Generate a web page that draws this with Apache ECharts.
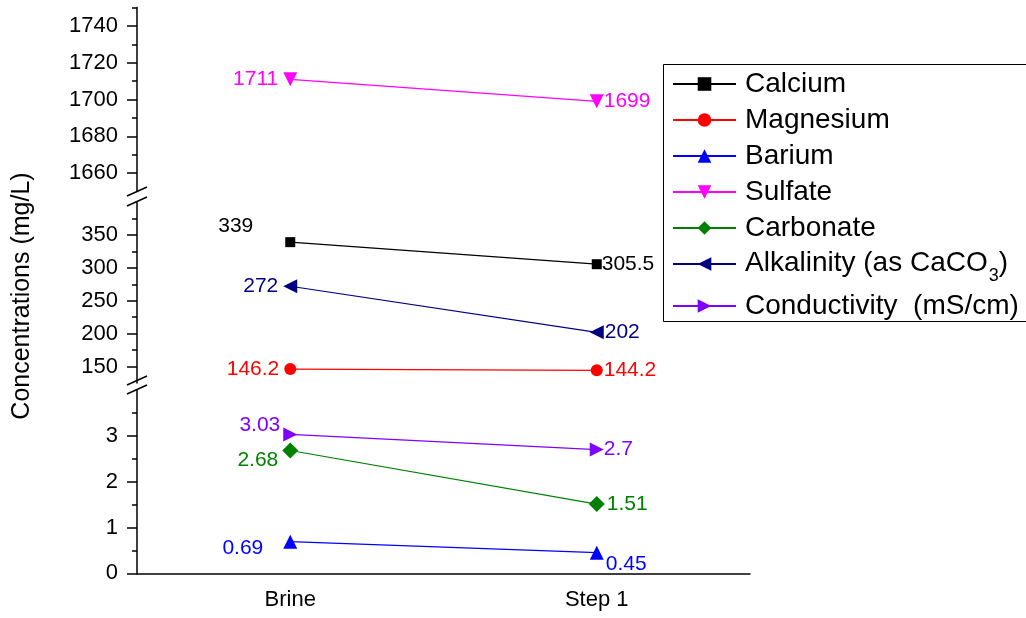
<!DOCTYPE html>
<html><head><meta charset="utf-8">
<script src="https://cdn.jsdelivr.net/npm/echarts@6/dist/echarts.min.js"></script>
<style>html,body{margin:0;padding:0;background:#fff}#c{width:1026px;height:618px}</style>
</head><body><div id="c"></div>
<script>
const categories = ['Brine', 'Step 1'];
const seriesNames = ['Calcium', 'Magnesium', 'Barium', 'Sulfate', 'Carbonate', 'Alkalinity (as CaCO3)', 'Conductivity  (mS/cm)'];
const calcium = [339, 305.5];
const magnesium = [146.2, 144.2];
const barium = [0.69, 0.45];
const sulfate = [1711, 1699];
const carbonate = [2.68, 1.51];
const alkalinity = [272, 202];
const conductivity = [3.03, 2.7];
const topRange = [1650, 1750];
const topTicks = [1660, 1680, 1700, 1720, 1740];
const topMinor = [1670, 1690, 1710, 1730, 1750];
const midRange = [125, 400];
const midTicks = [150, 200, 250, 300, 350];
const midMinor = [175, 225, 275, 325, 375];
const lowRange = [0, 4];
const lowTicks = [0, 1, 2, 3];
const lowMinor = [0.5, 1.5, 2.5, 3.5];
const yTitle = 'Concentrations (mg/L)';

const FONT = '"Liberation Sans", Arial, sans-serif';
const L = 137, R = 1026 - 750;
const grids = [
  { left: L, right: R, top: 7.6, height: 183.8 },
  { left: L, right: R, top: 202, height: 181 },
  { left: L, right: R, top: 390, height: 183.3 }
];
const xAxes = grids.map((g, i) => ({
  type: 'category', gridIndex: i, data: categories, show: i === 2,
  axisLine: { lineStyle: { color: '#000', width: 1.5 } },
  axisTick: { alignWithLabel: true, length: 9, lineStyle: { color: '#000', width: 1.5 } },
  axisLabel: { fontSize: 22, color: '#000', fontFamily: FONT, margin: 16 }
}));
function majorAxis(gi, range, ticks) {
  return {
    type: 'value', gridIndex: gi, position: 'left', min: range[0], max: range[1],
    axisLine: { show: true, lineStyle: { color: '#000', width: 1.5 } },
    axisTick: { show: true, length: 10, customValues: ticks, lineStyle: { color: '#000', width: 1.5 } },
    axisLabel: { customValues: ticks, formatter: v => String(v), fontSize: 22, color: '#000', fontFamily: FONT, margin: 19 },
    splitLine: { show: false }
  };
}
function minorAxis(gi, range, ticks) {
  return {
    type: 'value', gridIndex: gi, position: 'left', offset: 0, min: range[0], max: range[1],
    axisLine: { show: false },
    axisTick: { show: true, length: 5, customValues: ticks, lineStyle: { color: '#000', width: 1.5 } },
    axisLabel: { show: false },
    splitLine: { show: false }
  };
}
const yAxes = [
  majorAxis(0, topRange, topTicks), minorAxis(0, topRange, topMinor),
  majorAxis(1, midRange, midTicks), minorAxis(1, midRange, midMinor),
  majorAxis(2, lowRange, lowTicks), minorAxis(2, lowRange, lowMinor)
];

function mk(name, vals, color, symbol, size, rotate, gi, labels) {
  return {
    name, type: 'line', xAxisIndex: gi, yAxisIndex: gi * 2,
    symbol, symbolSize: size, symbolRotate: rotate,
    itemStyle: { color }, lineStyle: { color, width: 1.2 },
    label: { show: true, color, fontSize: 21, fontFamily: FONT },
    data: vals.map((v, i) => ({ value: v, label: labels[i] }))
  };
}
const series = [
  mk(seriesNames[0], calcium, '#000000', 'rect', 10, 0, 1,
     [{ position: 'left', distance: 32, offset: [0, -16] }, { position: 'right', distance: 0 }]),
  mk(seriesNames[1], magnesium, '#ff0000', 'circle', 12, 0, 1,
     [{ position: 'left', distance: 5 }, { position: 'right', distance: 1 }]),
  mk(seriesNames[2], barium, '#0000ff', 'triangle', 14, 0, 2,
     [{ position: 'left', distance: 20, offset: [0, 7] }, { position: 'right', distance: 2, offset: [0, 12] }]),
  mk(seriesNames[3], sulfate, '#ff00ff', 'triangle', 14, 180, 0,
     [{ position: 'left', distance: 5 }, { position: 'right', distance: 0 }]),
  mk(seriesNames[4], carbonate, '#008000', 'diamond', 16, 0, 2,
     [{ position: 'left', distance: 4, offset: [0, 10] }, { position: 'right', distance: 2 }]),
  mk(seriesNames[5], alkalinity, '#000080', 'triangle', 14, 90, 1,
     [{ position: 'left', distance: 5 }, { position: 'right', distance: 1 }]),
  mk(seriesNames[6], conductivity, '#8000ff', 'triangle', 14, -90, 2,
     [{ position: 'left', distance: 3, offset: [0, -9] }, { position: 'right', distance: 0 }])
];

const breakLine = (x1, y1, x2, y2) => ({
  type: 'line', shape: { x1, y1, x2, y2 }, style: { stroke: '#000', lineWidth: 1.5 }, z: 100
});

function legendFormatter(n) {
  const k = n.indexOf('CaCO3');
  if (k < 0) return n;
  return '{m|' + n.slice(0, k + 4) + '}{sub|3}{m|' + n.slice(k + 5) + '}';
}

const chart = echarts.init(document.getElementById('c'), null, { renderer: 'canvas' });
chart.setOption({
  animation: false,
  backgroundColor: '#fff',
  grid: grids,
  xAxis: xAxes,
  yAxis: yAxes,
  series,
  legend: {
    data: seriesNames, orient: 'vertical', left: 672, top: 69,
    itemWidth: 63, itemHeight: 17, itemGap: 6,
    padding: 0,
    formatter: legendFormatter,
    textStyle: {
      fontSize: 28, fontFamily: FONT, color: '#000', lineHeight: 30, padding: [0, 0, 0, 4],
      rich: {
        m: { fontSize: 28, fontFamily: FONT, color: '#000', lineHeight: 30, verticalAlign: 'top' },
        sub: { fontSize: 18, fontFamily: FONT, color: '#000', lineHeight: 20, verticalAlign: 'top', padding: [18, 0, 0, 1] }
      }
    }
  },
  graphic: [
    { type: 'rect', shape: { x: 663.5, y: 64.5, width: 420, height: 257 },
      style: { fill: 'none', stroke: '#000', lineWidth: 1 }, z: 0 },
    { type: 'text', x: 22, y: 296, rotation: Math.PI / 2,
      style: { text: yTitle, font: '25px ' + FONT, fill: '#000', align: 'center', verticalAlign: 'middle' } },
    breakLine(127, 196, 147, 187), breakLine(127, 206, 147, 197),
    breakLine(127, 385, 147, 376), breakLine(127, 394, 147, 385)
  ]
});
</script></body></html>
